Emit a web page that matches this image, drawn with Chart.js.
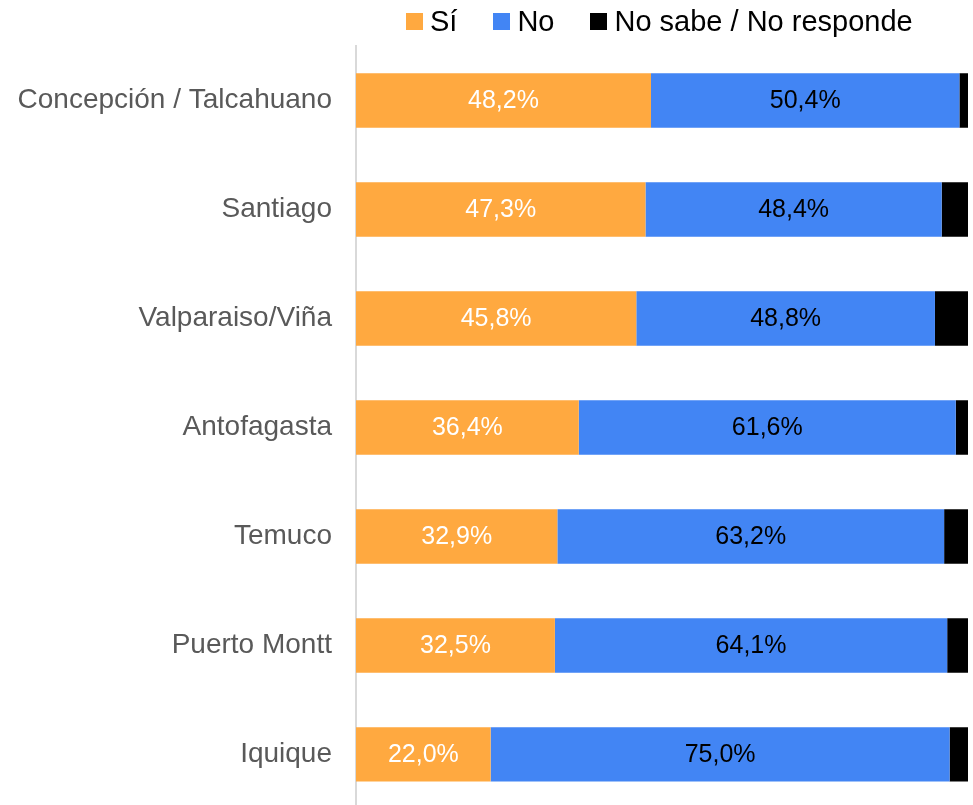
<!DOCTYPE html>
<html>
<head>
<meta charset="utf-8">
<script src="https://cdn.jsdelivr.net/npm/chart.js@4.4.1/dist/chart.umd.min.js"></script>
<style>
    body { margin: 0; background: #fff; font-family: "Liberation Sans", Arial, sans-serif; overflow: hidden; }
    #wrap { position: relative; width: 973px; height: 805px; overflow: hidden; }
    #legend { position: absolute; top: 4px; left: 406px; display: flex; align-items: center; font-size: 29px; line-height: 34px; color: #000; white-space: nowrap; }
    #legend span.item { display: flex; align-items: center; margin-right: 36px; }
    #legend span.box { display: inline-block; width: 17px; height: 17px; margin-right: 7px; }
</style>
</head>
<body>
<div id="wrap">
    <div id="legend"></div>
    <canvas id="grafica1" width="973" height="809"></canvas>
</div>
<script>
// Datos
const ciudades = ["Concepción / Talcahuano", "Santiago", "Valparaiso/Viña", "Antofagasta", "Temuco", "Puerto Montt", "Iquique"];
const si = [48.2, 47.3, 45.8, 36.4, 32.9, 32.5, 22.0];
const no = [50.4, 48.4, 48.8, 61.6, 63.2, 64.1, 75.0];
const nsnr = [1.4, 4.3, 5.4, 2.0, 3.9, 3.4, 3.0];
const series = ["Sí", "No", "No sabe / No responde"];
const colores = ["#ffa940", "#4285f4", "#000000"];
const colorEtiqueta = ["#ffffff", "#000000", null];

// Leyenda
function load_legend() {
    let html = "";
    for (let i = 0; i < series.length; i++) {
        html += '<span class="item"><span class="box" style="background:' + colores[i] + '"></span>' + series[i] + '</span>';
    }
    document.getElementById("legend").innerHTML = html;
}

// Etiquetas de valores dentro de las barras
const etiquetas = {
    id: "etiquetas",
    afterDatasetsDraw(chart) {
        let ctx = chart.ctx;
        ctx.save();
        ctx.font = '25px "Liberation Sans", Arial, sans-serif';
        ctx.textAlign = "center";
        ctx.textBaseline = "middle";
        chart.data.datasets.forEach(function (ds, i) {
            if (!colorEtiqueta[i]) return;
            let meta = chart.getDatasetMeta(i);
            meta.data.forEach(function (bar, j) {
                ctx.fillStyle = colorEtiqueta[i];
                let x = (bar.x + bar.base) / 2;
                ctx.fillText(ds.data[j].toFixed(1).replace(".", ",") + "%", x, bar.y + 1);
            });
        });
        ctx.restore();
    }
};

function load_chart() {
    let ctx = document.getElementById("grafica1");
    new Chart(ctx, {
        type: "bar",
        data: {
            labels: ciudades,
            datasets: [
                { label: series[0], data: si, backgroundColor: colores[0] },
                { label: series[1], data: no, backgroundColor: colores[1] },
                { label: series[2], data: nsnr, backgroundColor: colores[2] }
            ]
        },
        options: {
            indexAxis: "y",
            responsive: false,
            animation: false,
            layout: { padding: { top: 46, right: 5, bottom: 0, left: 0 } },
            datasets: { bar: { categoryPercentage: 1, barPercentage: 0.5 } },
            plugins: { legend: { display: false }, tooltip: { enabled: false } },
            scales: {
                x: { stacked: true, min: 0, max: 100, display: false },
                y: {
                    stacked: true,
                    grid: { display: false, drawTicks: true, tickLength: 24 },
                    border: { display: true, color: "#d9d9d9", width: 2 },
                    ticks: {
                        padding: 0,
                        color: "#595959",
                        font: { family: '"Liberation Sans", Arial, sans-serif', size: 28, lineHeight: 0.01 }
                    },
                    afterFit: function (scale) { scale.width = 356; }
                }
            }
        },
        plugins: [etiquetas]
    });
}

load_legend();
load_chart();
</script>
</body>
</html>
